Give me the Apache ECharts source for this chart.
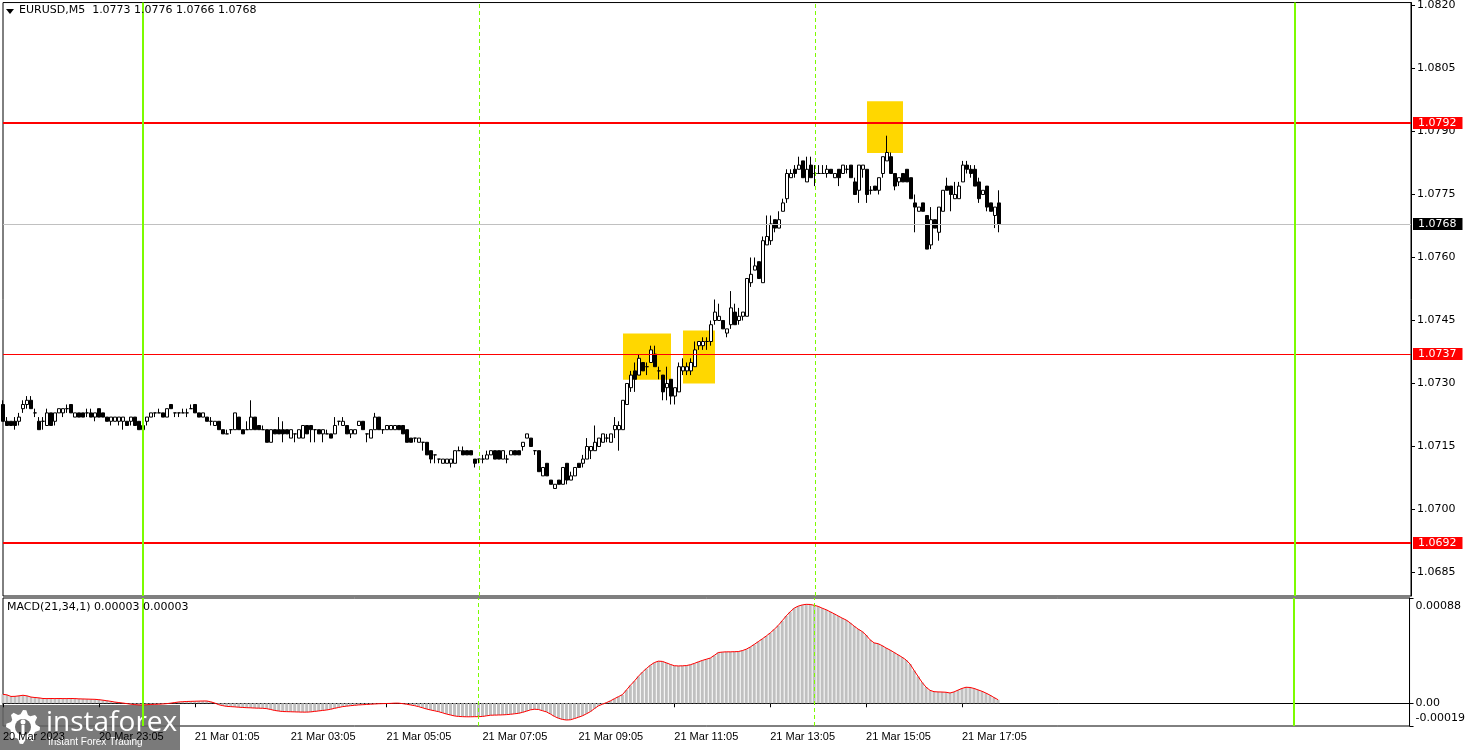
<!DOCTYPE html>
<html>
<head>
<meta charset="utf-8">
<title>EURUSD M5</title>
<script src="https://cdn.jsdelivr.net/npm/echarts@6/dist/echarts.min.js"></script>
<style>
  html, body { margin: 0; padding: 0; background: #fff; }
  #chart { width: 1468px; height: 750px; }
</style>
</head>
<body>
<div id="chart"></div>
<script>
// EURUSD M5, one bar every 5 minutes from 20 Mar 21:05 to 21 Mar 17:50
// rows: [open, high, low, close]
const ohlc = [
  [1.0725,1.0726,1.0721,1.0721],[1.0721,1.0722,1.0720,1.0720],[1.0721,1.0721,1.0720,1.0720],[1.0721,1.0722,1.0719,1.0720],
  [1.0721,1.0723,1.0720,1.0722],[1.0724,1.0726,1.0723,1.0725],[1.0725,1.0727,1.0724,1.0726],[1.0726,1.0727,1.0724,1.0724],
  [1.0723,1.0724,1.0722,1.0723],[1.0721,1.0722,1.0719,1.0719],[1.0721,1.0722,1.0719,1.0721],[1.0720,1.0724,1.0720,1.0723],
  [1.0723,1.0723,1.0720,1.0720],[1.0721,1.0723,1.0720,1.0723],[1.0723,1.0724,1.0723,1.0724],[1.0723,1.0724,1.0722,1.0724],
  [1.0724,1.0725,1.0723,1.0724],[1.0725,1.0725,1.0723,1.0723],[1.0722,1.0723,1.0722,1.0723],[1.0723,1.0723,1.0722,1.0722],
  [1.0723,1.0723,1.0722,1.0722],[1.0723,1.0724,1.0722,1.0723],[1.0723,1.0724,1.0722,1.0722],[1.0722,1.0723,1.0721,1.0723],
  [1.0724,1.0724,1.0722,1.0722],[1.0723,1.0723,1.0722,1.0722],[1.0722,1.0722,1.0721,1.0721],[1.0721,1.0722,1.0720,1.0722],
  [1.0721,1.0722,1.0721,1.0722],[1.0721,1.0722,1.0720,1.0722],[1.0721,1.0722,1.0719,1.0722],[1.0721,1.0721,1.0720,1.0720],
  [1.0721,1.0722,1.0720,1.0722],[1.0722,1.0722,1.0720,1.0720],[1.0721,1.0721,1.0719,1.0719],[1.0719,1.0720,1.0719,1.0720],
  [1.0721,1.0722,1.0720,1.0722],[1.0722,1.0723,1.0722,1.0723],[1.0723,1.0723,1.0722,1.0723],[1.0723,1.0724,1.0723,1.0723],
  [1.0723,1.0723,1.0722,1.0722],[1.0722,1.0724,1.0722,1.0724],[1.0725,1.0725,1.0724,1.0724],[1.0723,1.0723,1.0722,1.0723],
  [1.0723,1.0723,1.0722,1.0723],[1.0723,1.0724,1.0723,1.0723],[1.0723,1.0724,1.0722,1.0723],[1.0724,1.0725,1.0724,1.0724],
  [1.0725,1.0725,1.0723,1.0723],[1.0723,1.0723,1.0722,1.0722],[1.0722,1.0723,1.0722,1.0723],[1.0722,1.0722,1.0721,1.0721],
  [1.0721,1.0722,1.0720,1.0721],[1.0720,1.0721,1.0720,1.0721],[1.0721,1.0721,1.0719,1.0719],[1.0719,1.0719,1.0718,1.0718],
  [1.0718,1.0719,1.0718,1.0718],[1.0719,1.0719,1.0718,1.0719],[1.0719,1.0723,1.0719,1.0723],[1.0722,1.0722,1.0719,1.0719],
  [1.0719,1.0719,1.0718,1.0718],[1.0719,1.0721,1.0719,1.0719],[1.0719,1.0726,1.0719,1.0722],[1.0722,1.0722,1.0719,1.0719],
  [1.0720,1.0720,1.0719,1.0719],[1.0719,1.0720,1.0719,1.0719],[1.0719,1.0719,1.0716,1.0716],[1.0716,1.0719,1.0716,1.0719],
  [1.0719,1.0719,1.0718,1.0718],[1.0719,1.0722,1.0718,1.0718],[1.0719,1.0721,1.0716,1.0718],[1.0719,1.0719,1.0718,1.0718],
  [1.0717,1.0719,1.0717,1.0719],[1.0718,1.0718,1.0716,1.0718],[1.0717,1.0719,1.0717,1.0719],[1.0717,1.0720,1.0717,1.0720],
  [1.0720,1.0720,1.0718,1.0718],[1.0720,1.0720,1.0716,1.0719],[1.0719,1.0719,1.0716,1.0719],[1.0719,1.0719,1.0718,1.0718],
  [1.0718,1.0719,1.0716,1.0719],[1.0718,1.0719,1.0718,1.0718],[1.0718,1.0718,1.0717,1.0717],[1.0718,1.0722,1.0718,1.0720],
  [1.0721,1.0721,1.0720,1.0721],[1.0720,1.0722,1.0720,1.0721],[1.0720,1.0720,1.0718,1.0718],[1.0718,1.0719,1.0717,1.0719],
  [1.0718,1.0719,1.0718,1.0719],[1.0720,1.0721,1.0720,1.0721],[1.0721,1.0721,1.0719,1.0719],[1.0718,1.0718,1.0716,1.0718],
  [1.0717,1.0719,1.0717,1.0719],[1.0719,1.0723,1.0719,1.0722],[1.0722,1.0722,1.0719,1.0719],[1.0719,1.0719,1.0718,1.0719],
  [1.0719,1.0720,1.0719,1.0720],[1.0719,1.0720,1.0719,1.0720],[1.0719,1.0720,1.0719,1.0720],[1.0720,1.0720,1.0719,1.0719],
  [1.0720,1.0720,1.0718,1.0718],[1.0719,1.0719,1.0716,1.0716],[1.0717,1.0717,1.0716,1.0716],[1.0717,1.0717,1.0716,1.0717],
  [1.0716,1.0717,1.0716,1.0717],[1.0716,1.0716,1.0714,1.0716],[1.0716,1.0716,1.0713,1.0713],[1.0714,1.0714,1.0711,1.0712],
  [1.0713,1.0713,1.0711,1.0713],[1.0712,1.0712,1.0711,1.0712],[1.0711,1.0712,1.0711,1.0712],[1.0711,1.0712,1.0711,1.0712],
  [1.0711,1.0712,1.0710,1.0712],[1.0711,1.0714,1.0711,1.0714],[1.0714,1.0715,1.0714,1.0714],[1.0714,1.0715,1.0713,1.0713],
  [1.0714,1.0714,1.0713,1.0713],[1.0714,1.0714,1.0713,1.0713],[1.0712,1.0712,1.0710,1.0711],[1.0712,1.0712,1.0711,1.0712],
  [1.0712,1.0713,1.0711,1.0712],[1.0712,1.0714,1.0712,1.0713],[1.0713,1.0714,1.0713,1.0714],[1.0714,1.0714,1.0712,1.0712],
  [1.0714,1.0714,1.0712,1.0712],[1.0712,1.0714,1.0712,1.0714],[1.0712,1.0713,1.0711,1.0712],[1.0713,1.0714,1.0713,1.0714],
  [1.0714,1.0714,1.0713,1.0713],[1.0714,1.0714,1.0713,1.0713],[1.0715,1.0716,1.0714,1.0716],[1.0717,1.0718,1.0717,1.0718],
  [1.0717,1.0717,1.0715,1.0715],[1.0714,1.0714,1.0713,1.0714],[1.0714,1.0714,1.0709,1.0709],[1.0708,1.0710,1.0708,1.0710],
  [1.0711,1.0711,1.0708,1.0708],[1.0707,1.0707,1.0706,1.0706],[1.0705,1.0706,1.0705,1.0706],[1.0707,1.0707,1.0706,1.0706],
  [1.0706,1.0710,1.0706,1.0710],[1.0711,1.0711,1.0706,1.0707],[1.0707,1.0709,1.0707,1.0708],[1.0708,1.0710,1.0708,1.0710],
  [1.0711,1.0711,1.0710,1.0710],[1.0711,1.0713,1.0710,1.0712],[1.0712,1.0717,1.0712,1.0715],[1.0714,1.0715,1.0712,1.0715],
  [1.0714,1.0720,1.0714,1.0716],[1.0715,1.0717,1.0715,1.0717],[1.0716,1.0718,1.0716,1.0718],[1.0717,1.0718,1.0716,1.0717],
  [1.0716,1.0718,1.0716,1.0718],[1.0719,1.0722,1.0717,1.0720],[1.0719,1.0721,1.0714,1.0720],[1.0719,1.0726,1.0719,1.0726],
  [1.0725,1.0730,1.0725,1.0730],[1.0729,1.0733,1.0728,1.0732],[1.0733,1.0735,1.0728,1.0731],[1.0732,1.0737,1.0732,1.0736],
  [1.0735,1.0735,1.0733,1.0733],[1.0734,1.0735,1.0732,1.0734],[1.0735,1.0739,1.0735,1.0738],[1.0737,1.0739,1.0734,1.0734],
  [1.0733,1.0734,1.0731,1.0733],[1.0732,1.0732,1.0726,1.0728],[1.0729,1.0734,1.0726,1.0730],[1.0731,1.0731,1.0725,1.0727],
  [1.0727,1.0729,1.0725,1.0729],[1.0728,1.0735,1.0728,1.0734],[1.0733,1.0736,1.0732,1.0734],[1.0733,1.0735,1.0732,1.0734],
  [1.0733,1.0736,1.0732,1.0735],[1.0734,1.0740,1.0734,1.0738],[1.0739,1.0740,1.0738,1.0740],[1.0739,1.0741,1.0738,1.0740],
  [1.0740,1.0741,1.0738,1.0740],[1.0740,1.0745,1.0739,1.0744],[1.0745,1.0750,1.0744,1.0747],[1.0745,1.0749,1.0745,1.0746],
  [1.0745,1.0745,1.0743,1.0743],[1.0742,1.0743,1.0741,1.0743],[1.0744,1.0752,1.0743,1.0748],[1.0747,1.0749,1.0744,1.0744],
  [1.0745,1.0748,1.0744,1.0746],[1.0746,1.0747,1.0745,1.0747],[1.0746,1.0755,1.0746,1.0755],[1.0754,1.0760,1.0753,1.0756],
  [1.0757,1.0760,1.0757,1.0758],[1.0759,1.0759,1.0755,1.0755],[1.0754,1.0765,1.0754,1.0764],[1.0763,1.0770,1.0763,1.0765],
  [1.0764,1.0770,1.0763,1.0768],[1.0769,1.0769,1.0766,1.0767],[1.0767,1.0771,1.0767,1.0769],[1.0771,1.0774,1.0771,1.0773],
  [1.0774,1.0781,1.0773,1.0780],[1.0779,1.0781,1.0779,1.0780],[1.0781,1.0782,1.0779,1.0780],[1.0781,1.0784,1.0781,1.0782],
  [1.0783,1.0783,1.0779,1.0779],[1.0778,1.0784,1.0778,1.0781],[1.0782,1.0784,1.0779,1.0779],[1.0780,1.0782,1.0777,1.0780],
  [1.0780,1.0782,1.0780,1.0780],[1.0780,1.0782,1.0780,1.0780],[1.0780,1.0782,1.0779,1.0781],[1.0781,1.0781,1.0780,1.0780],
  [1.0779,1.0780,1.0779,1.0780],[1.0781,1.0781,1.0777,1.0779],[1.0780,1.0782,1.0780,1.0782],[1.0781,1.0782,1.0780,1.0781],
  [1.0782,1.0782,1.0779,1.0779],[1.0778,1.0779,1.0775,1.0775],[1.0776,1.0782,1.0773,1.0782],[1.0781,1.0782,1.0779,1.0782],
  [1.0781,1.0781,1.0773,1.0775],[1.0776,1.0777,1.0775,1.0776],[1.0777,1.0777,1.0776,1.0776],[1.0776,1.0779,1.0775,1.0779],
  [1.0780,1.0784,1.0779,1.0784],[1.0783,1.0789,1.0783,1.0785],[1.0784,1.0785,1.0780,1.0780],[1.0780,1.0780,1.0776,1.0777],
  [1.0778,1.0779,1.0777,1.0779],[1.0780,1.0780,1.0778,1.0778],[1.0781,1.0781,1.0778,1.0778],[1.0779,1.0779,1.0774,1.0774],
  [1.0773,1.0775,1.0766,1.0772],[1.0771,1.0772,1.0771,1.0772],[1.0773,1.0773,1.0771,1.0771],[1.0770,1.0770,1.0762,1.0762],
  [1.0763,1.0772,1.0762,1.0769],[1.0769,1.0769,1.0767,1.0767],[1.0766,1.0772,1.0764,1.0772],[1.0771,1.0776,1.0771,1.0776],
  [1.0777,1.0779,1.0776,1.0776],[1.0777,1.0777,1.0771,1.0775],[1.0774,1.0778,1.0774,1.0775],[1.0774,1.0778,1.0774,1.0777],
  [1.0778,1.0783,1.0778,1.0782],[1.0782,1.0783,1.0780,1.0781],[1.0781,1.0782,1.0779,1.0780],[1.0781,1.0782,1.0777,1.0777],
  [1.0778,1.0779,1.0773,1.0774],[1.0775,1.0776,1.0775,1.0776],[1.0777,1.0777,1.0771,1.0772],[1.0773,1.0773,1.0771,1.0771],
  [1.0770,1.0772,1.0767,1.0772],[1.0773,1.0776,1.0766,1.0768]
];

// MACD(21,34,1) main value per bar; signal has period 1 so it sits on the histogram
const macdMain = [
  0.000075,0.000070,0.000057,0.000058,0.000062,0.000067,0.000062,0.000052,0.000048,0.000045,
  0.000040,0.000039,0.000040,0.000039,0.000040,0.000039,0.000039,0.000040,0.000039,0.000037,
  0.000036,0.000035,0.000034,0.000033,0.000030,0.000026,0.000021,0.000016,0.000010,0.000006,
  0.000002,-0.000003,-0.000008,-0.000011,-0.000014,-0.000014,-0.000012,-0.000010,-0.000009,-0.000008,
  -0.000006,-0.000003,0.000001,0.000006,0.000011,0.000013,0.000015,0.000016,0.000017,0.000018,
  0.000019,0.000019,0.000012,0.000002,-0.000012,-0.000020,-0.000026,-0.000028,-0.000030,-0.000033,
  -0.000035,-0.000037,-0.000038,-0.000040,-0.000041,-0.000042,-0.000045,-0.000052,-0.000060,-0.000065,
  -0.000069,-0.000070,-0.000071,-0.000072,-0.000073,-0.000074,-0.000074,-0.000072,-0.000068,-0.000064,
  -0.000060,-0.000056,-0.000050,-0.000042,-0.000035,-0.000028,-0.000024,-0.000020,-0.000017,-0.000014,
  -0.000012,-0.000010,-0.000008,-0.000006,-0.000004,-0.000003,-0.000002,-0.000001,0.000001,0.000001,
  -0.000003,-0.000008,-0.000014,-0.000020,-0.000028,-0.000038,-0.000048,-0.000056,-0.000063,-0.000070,
  -0.000080,-0.000090,-0.000098,-0.000106,-0.000110,-0.000112,-0.000113,-0.000113,-0.000112,-0.000112,
  -0.000110,-0.000105,-0.000100,-0.000099,-0.000098,-0.000097,-0.000095,-0.000092,-0.000088,-0.000084,
  -0.000076,-0.000066,-0.000055,-0.000050,-0.000052,-0.000062,-0.000072,-0.000090,-0.000110,-0.000125,
  -0.000135,-0.000140,-0.000138,-0.000128,-0.000117,-0.000105,-0.000088,-0.000070,-0.000045,-0.000022,
  -0.000008,0.000005,0.000020,0.000038,0.000055,0.000072,0.000110,0.000150,0.000185,0.000225,
  0.000260,0.000290,0.000318,0.000340,0.000352,0.000350,0.000338,0.000325,0.000314,0.000312,
  0.000313,0.000315,0.000322,0.000333,0.000346,0.000358,0.000368,0.000378,0.000400,0.000424,
  0.000428,0.000430,0.000430,0.000431,0.000432,0.000440,0.000452,0.000470,0.000492,0.000515,
  0.000538,0.000562,0.000588,0.000618,0.000650,0.000690,0.000730,0.000765,0.000795,0.000812,
  0.000822,0.000827,0.000826,0.000819,0.000810,0.000795,0.000782,0.000765,0.000748,0.000730,
  0.000712,0.000696,0.000672,0.000645,0.000620,0.000600,0.000570,0.000530,0.000505,0.000498,
  0.000482,0.000462,0.000445,0.000425,0.000405,0.000385,0.000362,0.000328,0.000275,0.000225,
  0.000175,0.000135,0.000108,0.000097,0.000095,0.000094,0.000092,0.000086,0.000095,0.000110,
  0.000124,0.000134,0.000132,0.000124,0.000112,0.000100,0.000085,0.000068,0.000048,0.000030
];
const macdSignal = macdMain;

const priceTicks = [1.0685, 1.0700, 1.0715, 1.0730, 1.0745, 1.0760, 1.0775, 1.0790, 1.0805, 1.0820];
const macdTicks = [-0.00019, 0, 0.00088];
// one label every 24 bars, starting from the first bar
const timeLabels = ['20 Mar 2023', '20 Mar 23:05', '21 Mar 01:05', '21 Mar 03:05', '21 Mar 05:05',
  '21 Mar 07:05', '21 Mar 09:05', '21 Mar 11:05', '21 Mar 13:05', '21 Mar 15:05', '21 Mar 17:05'];

const levels = [1.0792, 1.0737, 1.0692];
const bidPrice = 1.0768;
const dayLines = [35, 323];      // 00:00 bars
const sessionLines = [119, 203]; // 07:00 and 14:00 bars
// [fromBar, toBar, topPrice, bottomPrice]
const boxes = [
  [155, 167, 1.07419, 1.07309],
  [170, 178, 1.07426, 1.07300],
  [216, 225, 1.07972, 1.07849]
];

const SLOTS = 353; // bars plus empty space on the right
const categories = [];
for (let i = 0; i < SLOTS; i++) categories.push(String(i));

const FONT = 'DejaVu Sans';
const TIME_FONT = 'Liberation Sans';
const GREEN = '#7cfc00';

const chart = echarts.init(document.getElementById('chart'));

const isLabelBar = (idx) => idx % 24 === 0 && idx < ohlc.length;

const vLines = (idxs, dashed) => idxs.map(i => ({
  xAxis: i,
  lineStyle: dashed ? { color: GREEN, width: 1, type: [4, 3] } : { color: GREEN, width: 2, type: 'solid' }
}));

const levelLabel = (txt, bg) => ({
  show: true, position: 'end', distance: 2, formatter: txt,
  backgroundColor: bg, color: '#fff', fontFamily: FONT, fontSize: 11,
  padding: [0, 6, 0, 5], lineHeight: 12
});

// gear logo points
const gear = [];
for (let k = 0; k < 32; k++) {
  const a = k / 32 * Math.PI * 2;
  const r = (k % 4 < 2) ? 17 : 13;
  gear.push([23 + r * Math.cos(a), 727 + r * Math.sin(a)]);
}

const option = {
  animation: false,
  backgroundColor: '#fff',
  title: [
    { text: 'EURUSD,M5  1.0773 1.0776 1.0766 1.0768', left: 19, top: 5, padding: 0,
      textStyle: { fontFamily: FONT, fontSize: 11, fontWeight: 'normal', color: '#000' } },
    { text: 'MACD(21,34,1) 0.00003 0.00003', left: 7, top: 602, padding: 0,
      textStyle: { fontFamily: FONT, fontSize: 11, fontWeight: 'normal', color: '#000' } }
  ],
  grid: [
    { left: 3, top: 1, width: 1408, height: 595, show: true, borderColor: '#000', borderWidth: 1, backgroundColor: '#fff' },
    { left: 3, top: 598, width: 1408, height: 128, show: true, borderColor: '#000', borderWidth: 1, backgroundColor: '#fff' }
  ],
  xAxis: [
    { gridIndex: 0, type: 'category', data: categories, boundaryGap: false,
      axisLine: { show: false }, axisTick: { show: false }, axisLabel: { show: false }, splitLine: { show: false } },
    { gridIndex: 1, type: 'category', data: categories, boundaryGap: false,
      axisLine: { show: true, lineStyle: { color: '#000', width: 1 } },
      axisTick: { show: true, interval: isLabelBar, length: 4, lineStyle: { color: '#000' } },
      axisLabel: { show: true, interval: isLabelBar, align: 'left', margin: 5,
        formatter: (v, idx) => timeLabels[idx / 24] || '',
        fontFamily: TIME_FONT, fontSize: 11, color: '#000' },
      splitLine: { show: false } }
  ],
  yAxis: [
    { gridIndex: 0, type: 'value', position: 'right', min: 1.06794, max: 1.08207,
      splitLine: { show: false },
      axisLine: { show: true, lineStyle: { color: '#000' } },
      axisTick: { show: true, length: 4, customValues: priceTicks, lineStyle: { color: '#000' } },
      axisLabel: { customValues: priceTicks, formatter: v => v.toFixed(4), margin: 6,
        fontFamily: FONT, fontSize: 11, color: '#000' } },
    { gridIndex: 1, type: 'value', position: 'right', min: -0.00019, max: 0.00088,
      splitLine: { show: false },
      axisLine: { show: true, lineStyle: { color: '#000' } },
      axisTick: { show: true, length: 4, customValues: macdTicks, lineStyle: { color: '#000' } },
      axisLabel: { customValues: macdTicks, margin: 6, fontFamily: FONT, fontSize: 11, color: '#000',
        formatter: v => v > 0.0001 ? '{t|0.00088}' : (v < -0.0001 ? '{b|-0.00019}' : '0.00'),
        rich: {
          t: { fontFamily: FONT, fontSize: 11, color: '#000', padding: [16, 0, 0, 0] },
          b: { fontFamily: FONT, fontSize: 11, color: '#000', padding: [0, 0, 16, 0] }
        } } }
  ],
  series: [
    { name: 'marks-back', type: 'line', xAxisIndex: 0, yAxisIndex: 0, data: [], z: 1, silent: true,
      markArea: { silent: true, itemStyle: { color: '#ffd700', opacity: 1 },
        data: boxes.map(b => [{ xAxis: b[0], yAxis: b[2] }, { xAxis: b[1], yAxis: b[3] }]) },
      markLine: { silent: true, symbol: 'none', precision: 5, animation: false, label: { show: false },
        data: vLines(sessionLines, true).concat([
          { yAxis: bidPrice, lineStyle: { color: '#c0c0c0', width: 1, type: 'solid' }, label: levelLabel('1.0768', '#000') }
        ]) } },
    { name: 'EURUSD', type: 'candlestick', xAxisIndex: 0, yAxisIndex: 0, z: 2, barWidth: 3,
      data: ohlc.map(r => [r[0], r[3], r[2], r[1]]),
      itemStyle: { color: '#fff', color0: '#000', borderColor: '#000', borderColor0: '#000',
        borderColorDoji: '#000', borderWidth: 1 } },
    { name: 'marks-front', type: 'line', xAxisIndex: 0, yAxisIndex: 0, data: [], z: 3, silent: true,
      markLine: { silent: true, symbol: 'none', precision: 5, animation: false, label: { show: false },
        data: levels.map((p, k) => ({
          yAxis: p,
          lineStyle: { color: '#ff0000', width: k === 1 ? 1 : 2, type: 'solid' },
          label: levelLabel(p.toFixed(4), '#ff0000')
        })).concat(vLines(dayLines, false)) } },
    { name: 'macd-back', type: 'line', xAxisIndex: 1, yAxisIndex: 1, data: [], z: 1, silent: true,
      markLine: { silent: true, symbol: 'none', animation: false, label: { show: false },
        data: vLines(sessionLines, true) } },
    { name: 'MACD', type: 'bar', xAxisIndex: 1, yAxisIndex: 1, data: macdMain, barWidth: 3, z: 2,
      itemStyle: { color: '#c0c0c0' } },
    { name: 'Signal', type: 'line', xAxisIndex: 1, yAxisIndex: 1, data: macdSignal, z: 3,
      symbol: 'none', showSymbol: false, lineStyle: { color: '#ff0000', width: 1 } },
    { name: 'macd-front', type: 'line', xAxisIndex: 1, yAxisIndex: 1, data: [], z: 4, silent: true,
      markLine: { silent: true, symbol: 'none', animation: false, label: { show: false },
        data: vLines(dayLines, false) } }
  ],
  graphic: [
    { type: 'polygon', z: 100, shape: { points: [[6, 9], [14, 9], [10, 14]] }, style: { fill: '#000' } },
    { type: 'group', z: 100, children: [
      { type: 'rect', shape: { x: 0, y: 705, width: 180, height: 45 }, style: { fill: 'rgba(100,100,100,0.86)' } },
      { type: 'polygon', shape: { points: gear }, style: { fill: '#fff' } },
      { type: 'circle', shape: { cx: 23, cy: 727, r: 8 }, style: { fill: '#6e6e6e' } },
      { type: 'circle', shape: { cx: 23, cy: 722, r: 2.5 }, style: { fill: '#fff' } },
      { type: 'rect', shape: { x: 21.5, y: 725, width: 3, height: 9 }, style: { fill: '#fff' } },
      { type: 'text', style: { x: 46, y: 723, text: 'instaforex', fill: '#fff',
        font: '28px "Open Sans", sans-serif', verticalAlign: 'middle' } },
      { type: 'text', style: { x: 48, y: 742, text: 'Instant Forex Trading', fill: '#fff',
        font: '10px "Liberation Sans", sans-serif', verticalAlign: 'middle' } }
    ] }
  ]
};

chart.setOption(option);
</script>
</body>
</html>
